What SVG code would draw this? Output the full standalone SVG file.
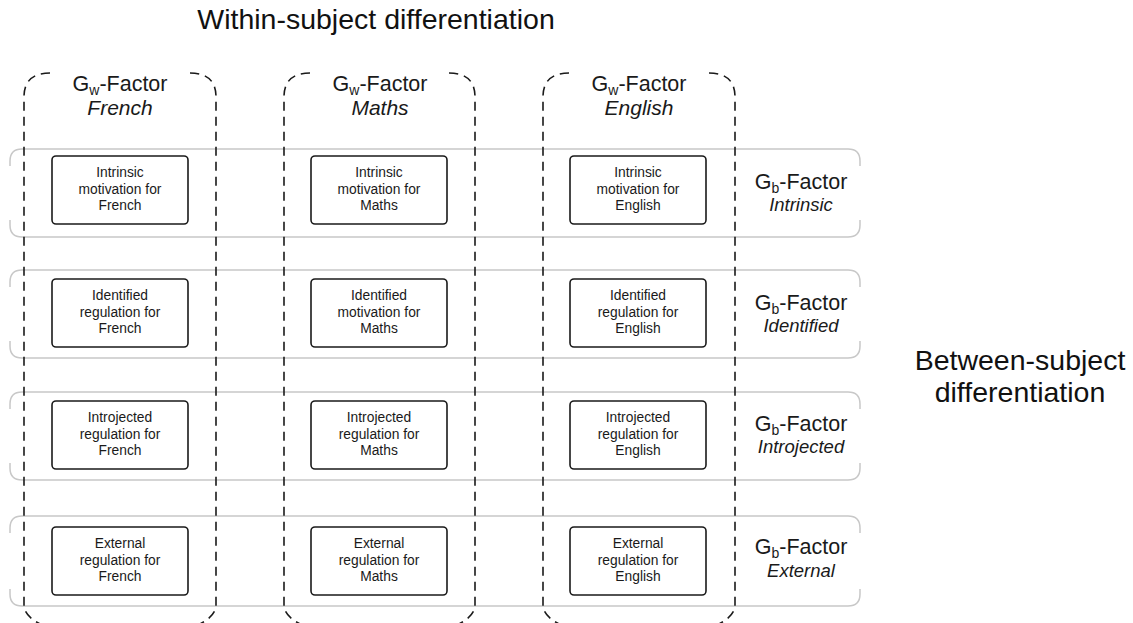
<svg xmlns="http://www.w3.org/2000/svg" width="1133" height="623" viewBox="0 0 1133 623">
<style>
  .band{fill:none;stroke:#c8c8c8;stroke-width:1.5}
  .col{fill:none;stroke:#1a1a1a;stroke-width:1.6;stroke-dasharray:9 6}
  .box{fill:#fff;stroke:#1a1a1a;stroke-width:1.6}
  .bt{font-family:"Liberation Sans",Arial,sans-serif;font-size:13.8px;fill:#1a1a1a;text-anchor:middle}
  .hd{font-family:"Liberation Sans",Arial,sans-serif;font-size:21.5px;fill:#1a1a1a;text-anchor:middle}
  .hi{font-family:"Liberation Sans",Arial,sans-serif;font-size:21px;font-style:italic;fill:#1a1a1a;text-anchor:middle}
  .ri{font-family:"Liberation Sans",Arial,sans-serif;font-size:18.5px;font-style:italic;fill:#1a1a1a;text-anchor:middle}
  .sub{font-size:14px}
  .big{font-family:"Liberation Sans",Arial,sans-serif;font-size:28.5px;fill:#111;text-anchor:middle}
</style>
<rect width="1133" height="623" fill="#fff"/>
<text class="big" x="376" y="29">Within-subject differentiation</text>
<text class="big" x="1020" y="370">Between-subject</text>
<text class="big" x="1020" y="402">differentiation</text>
<g id="bands">
  <g id="band-intrinsic">
    <path class="band" d="M10 166 L10 161 Q10 149 22 149 L848 149 Q860 149 860 161 L860 166"/>
    <path class="band" d="M10 220 L10 225 Q10 237 22 237 L848 237 Q860 237 860 225 L860 220"/>
  </g>
  <g id="band-identified">
    <path class="band" d="M10 287 L10 282 Q10 270 22 270 L848 270 Q860 270 860 282 L860 287"/>
    <path class="band" d="M10 341 L10 346 Q10 358 22 358 L848 358 Q860 358 860 346 L860 341"/>
  </g>
  <g id="band-introjected">
    <path class="band" d="M10 409 L10 404 Q10 392 22 392 L848 392 Q860 392 860 404 L860 409"/>
    <path class="band" d="M10 463 L10 468 Q10 480 22 480 L848 480 Q860 480 860 468 L860 463"/>
  </g>
  <g id="band-external">
    <path class="band" d="M10 533 L10 528 Q10 516 22 516 L848 516 Q860 516 860 528 L860 533"/>
    <path class="band" d="M10 589 L10 594 Q10 606 22 606 L848 606 Q860 606 860 594 L860 589"/>
  </g>
</g>
<g id="columns">
  <path class="col" d="M50 73 Q24 73 24 97 L24 605 C24 615 35 623 50 628 M190 73 Q216 73 216 97 L216 605 C216 615 205 623 190 628"/>
  <path class="col" d="M310 73 Q284 73 284 97 L284 605 C284 615 295 623 310 628 M449 73 Q475 73 475 97 L475 605 C475 615 464 623 449 628"/>
  <path class="col" d="M569 73 Q543 73 543 97 L543 605 C543 615 554 623 569 628 M709 73 Q735 73 735 97 L735 605 C735 615 724 623 709 628"/>
</g>
<g id="col-french-label">
  <text class="hd" x="120" y="91">G<tspan class="sub" dy="4">w</tspan><tspan dy="-4">-Factor</tspan></text>
  <text class="hi" x="120" y="115">French</text>
</g>
<g id="col-maths-label">
  <text class="hd" x="380" y="91">G<tspan class="sub" dy="4">w</tspan><tspan dy="-4">-Factor</tspan></text>
  <text class="hi" x="380" y="115">Maths</text>
</g>
<g id="col-english-label">
  <text class="hd" x="639" y="91">G<tspan class="sub" dy="4">w</tspan><tspan dy="-4">-Factor</tspan></text>
  <text class="hi" x="639" y="115">English</text>
</g>
<g id="row-intrinsic-label">
  <text class="hd" x="801" y="189">G<tspan class="sub" dy="4">b</tspan><tspan dy="-4">-Factor</tspan></text>
  <text class="ri" x="801" y="211">Intrinsic</text>
</g>
<g id="row-identified-label">
  <text class="hd" x="801" y="310">G<tspan class="sub" dy="4">b</tspan><tspan dy="-4">-Factor</tspan></text>
  <text class="ri" x="801" y="332">Identified</text>
</g>
<g id="row-introjected-label">
  <text class="hd" x="801" y="431">G<tspan class="sub" dy="4">b</tspan><tspan dy="-4">-Factor</tspan></text>
  <text class="ri" x="801" y="453">Introjected</text>
</g>
<g id="row-external-label">
  <text class="hd" x="801" y="554">G<tspan class="sub" dy="4">b</tspan><tspan dy="-4">-Factor</tspan></text>
  <text class="ri" x="801" y="577">External</text>
</g>
<g id="n-int-fr"><rect class="box" x="52" y="156" width="136" height="68" rx="4"/><text class="bt" x="120" y="177">Intrinsic</text><text class="bt" x="120" y="193.5">motivation for</text><text class="bt" x="120" y="210">French</text></g>
<g id="n-int-ma"><rect class="box" x="311" y="156" width="136" height="68" rx="4"/><text class="bt" x="379" y="177">Intrinsic</text><text class="bt" x="379" y="193.5">motivation for</text><text class="bt" x="379" y="210">Maths</text></g>
<g id="n-int-en"><rect class="box" x="570" y="156" width="136" height="68" rx="4"/><text class="bt" x="638" y="177">Intrinsic</text><text class="bt" x="638" y="193.5">motivation for</text><text class="bt" x="638" y="210">English</text></g>
<g id="n-ide-fr"><rect class="box" x="52" y="279" width="136" height="68" rx="4"/><text class="bt" x="120" y="300">Identified</text><text class="bt" x="120" y="316.5">regulation for</text><text class="bt" x="120" y="333">French</text></g>
<g id="n-ide-ma"><rect class="box" x="311" y="279" width="136" height="68" rx="4"/><text class="bt" x="379" y="300">Identified</text><text class="bt" x="379" y="316.5">motivation for</text><text class="bt" x="379" y="333">Maths</text></g>
<g id="n-ide-en"><rect class="box" x="570" y="279" width="136" height="68" rx="4"/><text class="bt" x="638" y="300">Identified</text><text class="bt" x="638" y="316.5">regulation for</text><text class="bt" x="638" y="333">English</text></g>
<g id="n-intro-fr"><rect class="box" x="52" y="401" width="136" height="68" rx="4"/><text class="bt" x="120" y="422">Introjected</text><text class="bt" x="120" y="438.5">regulation for</text><text class="bt" x="120" y="455">French</text></g>
<g id="n-intro-ma"><rect class="box" x="311" y="401" width="136" height="68" rx="4"/><text class="bt" x="379" y="422">Introjected</text><text class="bt" x="379" y="438.5">regulation for</text><text class="bt" x="379" y="455">Maths</text></g>
<g id="n-intro-en"><rect class="box" x="570" y="401" width="136" height="68" rx="4"/><text class="bt" x="638" y="422">Introjected</text><text class="bt" x="638" y="438.5">regulation for</text><text class="bt" x="638" y="455">English</text></g>
<g id="n-ext-fr"><rect class="box" x="52" y="527" width="136" height="68" rx="4"/><text class="bt" x="120" y="548">External</text><text class="bt" x="120" y="564.5">regulation for</text><text class="bt" x="120" y="581">French</text></g>
<g id="n-ext-ma"><rect class="box" x="311" y="527" width="136" height="68" rx="4"/><text class="bt" x="379" y="548">External</text><text class="bt" x="379" y="564.5">regulation for</text><text class="bt" x="379" y="581">Maths</text></g>
<g id="n-ext-en"><rect class="box" x="570" y="527" width="136" height="68" rx="4"/><text class="bt" x="638" y="548">External</text><text class="bt" x="638" y="564.5">regulation for</text><text class="bt" x="638" y="581">English</text></g>
<g id="connectors"></g>
</svg>
